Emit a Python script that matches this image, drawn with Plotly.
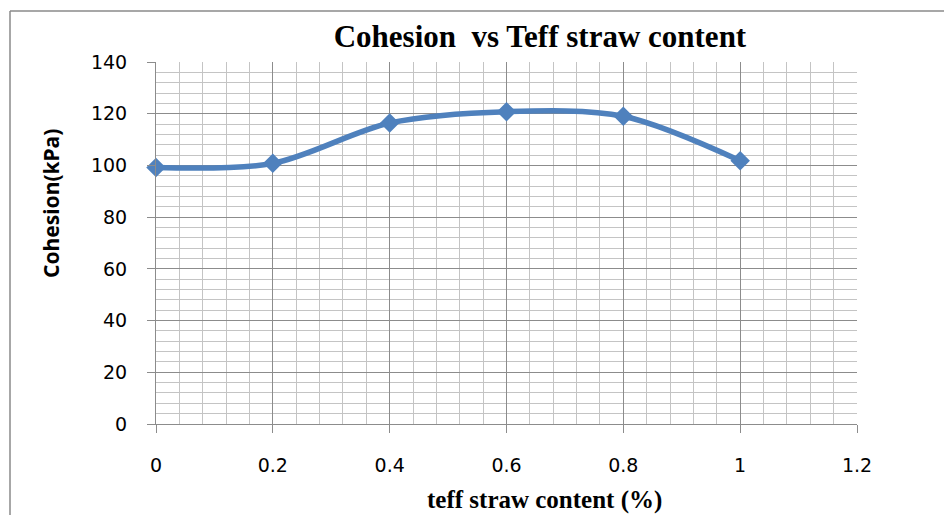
import plotly.graph_objects as go

# Cohesion measured at each teff straw dosage
straw_content = [0, 0.2, 0.4, 0.6, 0.8, 1.0]
cohesion_kpa = [99.2, 100.8, 116.4, 120.8, 119.0, 101.8]

x_ticks = [0, 0.2, 0.4, 0.6, 0.8, 1, 1.2]
x_tick_text = ["0", "0.2", "0.4", "0.6", "0.8", "1", "1.2"]
y_ticks = [0, 20, 40, 60, 80, 100, 120, 140]

BLUE = "#4F81BD"
MAJOR = "#8c8c8c"
MINOR = "#c4c4c4"

W, H = 944, 515
L, R, T, B = 156, 87, 62, 91
pw, ph = W - L - R, H - T - B


def px_x(p):
    return (p - L) / pw


def px_y(p):
    return (H - B - p) / ph


fig = go.Figure()
fig.add_trace(go.Scatter(
    x=straw_content,
    y=cohesion_kpa,
    mode="lines+markers",
    line=dict(color=BLUE, width=5.5, shape="spline", smoothing=0.9),
    marker=dict(symbol="diamond", size=15, color=BLUE),
    cliponaxis=False,
    showlegend=False,
))

tick_font = dict(family="DejaVu Sans, Noto Sans, sans-serif", size=19, color="#000")

fig.update_layout(
    width=W,
    height=H,
    margin=dict(l=L, r=R, t=T, b=B, pad=0),
    paper_bgcolor="white",
    plot_bgcolor="white",
    title=dict(
        text="<b>Cohesion  vs Teff straw content</b>",
        font=dict(family="Liberation Serif, Times New Roman, serif", size=31, color="#000"),
        x=0.572, xanchor="center", y=0.93, yanchor="middle",
    ),
    xaxis=dict(
        range=[0, 1.2],
        tickvals=x_ticks,
        ticktext=x_tick_text,
        tickfont=tick_font,
        ticks="outside", ticklen=8, tickcolor=MAJOR, tickwidth=1,
        ticklabelstandoff=16,
        showgrid=True, gridcolor=MAJOR, gridwidth=1,
        minor=dict(dtick=0.04, showgrid=True, gridcolor=MINOR, gridwidth=1, ticks=""),
        showline=True, linecolor=MAJOR, linewidth=1,
        zeroline=False,
    ),
    yaxis=dict(
        range=[0, 140],
        tickvals=y_ticks,
        tickfont=tick_font,
        ticks="outside", ticklen=8, tickcolor=MAJOR, tickwidth=1,
        ticklabelstandoff=16,
        showgrid=True, gridcolor=MAJOR, gridwidth=1,
        minor=dict(dtick=4, showgrid=True, gridcolor=MINOR, gridwidth=1, ticks=""),
        showline=True, linecolor=MAJOR, linewidth=1,
        zeroline=False,
    ),
    annotations=[
        # axis titles
        dict(text="<b>teff straw content (%)</b>", xref="paper", yref="paper",
             x=px_x(544), y=px_y(500), xanchor="center", yanchor="middle",
             showarrow=False,
             font=dict(family="Liberation Serif, Times New Roman, serif", size=25, color="#000")),
        dict(text="<b>Cohesion(kPa)</b>", xref="paper", yref="paper",
             x=px_x(51), y=px_y(203), xanchor="center", yanchor="middle",
             textangle=-90, showarrow=False,
             font=dict(family="Noto Sans, Open Sans, sans-serif", size=21, color="#000")),
    ],
    shapes=[
        # outer chart frame (top and left edges)
        dict(type="line", xref="paper", yref="paper",
             x0=px_x(10), y0=px_y(11), x1=px_x(W + 5), y1=px_y(11),
             line=dict(color="#8a8a8a", width=1.5)),
        dict(type="line", xref="paper", yref="paper",
             x0=px_x(10), y0=px_y(11), x1=px_x(10), y1=px_y(H + 5),
             line=dict(color="#8a8a8a", width=1.5)),
    ],
)

fig.write_html("out.html")
